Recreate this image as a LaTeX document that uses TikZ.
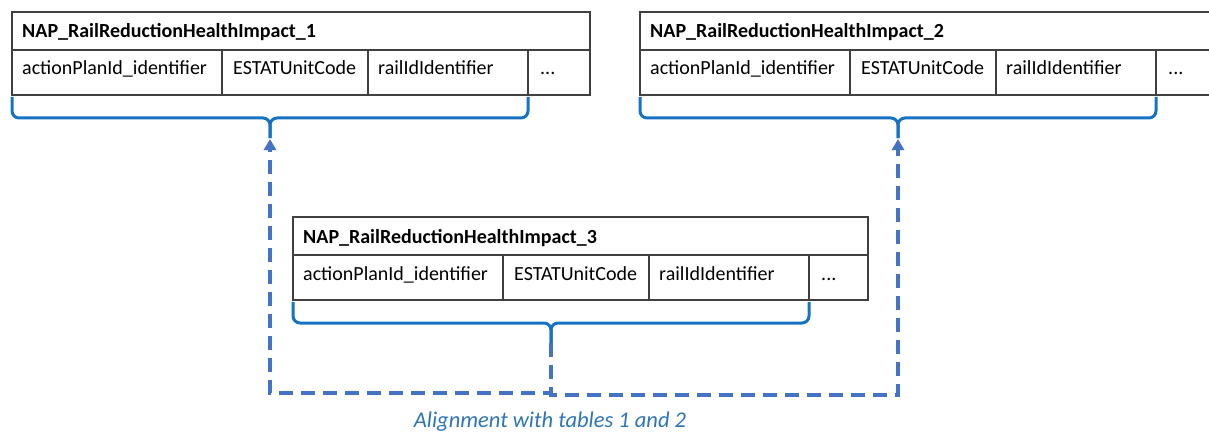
\documentclass[tikz,border=0pt]{standalone}
\usepackage{fontspec}
\setmainfont{Carlito}
\usetikzlibrary{arrows.meta}
\definecolor{bracecol}{HTML}{1772C4}
\definecolor{dashcol}{HTML}{4472C4}
\definecolor{capcol}{HTML}{2E75B6}
\definecolor{gridcol}{HTML}{404040}
\tikzset{
  cell/.style={draw=gridcol,line width=1.2pt},
  hdr/.style={anchor=base west,inner sep=0pt,font=\fontsize{20}{24}\selectfont\bfseries},
  fld/.style={anchor=base west,inner sep=0pt,font=\fontsize{20}{24}\selectfont},
  bracestyle/.style={draw=bracecol,line width=3pt,rounded corners=7pt},
  conn/.style={draw=dashcol,line width=3.2pt,dash pattern=on 14pt off 8pt},
  captext/.style={inner sep=0pt,text=capcol,font=\fontsize{22.5}{26}\selectfont\itshape},
}
\newcommand\naptable[4]{%
  \begin{scope}[shift={(#2,#3)}]
    \draw[cell] (0,0) rectangle (#4,83);
    \draw[cell] (0,38) -- (#4,38);
    \draw[cell] (210,38) -- (210,83);
    \draw[cell] (356,38) -- (356,83);
    \draw[cell] (516,38) -- (516,83);
    \node[hdr] (#1h) at (10,26) {NAP\_RailReductionHealthImpact\_#1};
    \node[fld] (#1a) at (10,63) {actionPlanId\_identifier};
    \node[fld] (#1b) at (221,63) {ESTATUnitCode};
    \node[fld] (#1c) at (366,63) {railIdIdentifier};
    \node[fld] (#1d) at (528,63) {...};
    \coordinate (#1L) at (0,85);
    \coordinate (#1R) at (516,85);
    \coordinate (#1M) at (258,106);
    \coordinate (#1tip) at (258,126);
    \draw[bracestyle] (#1L) |- (#1M) -- (#1tip);
    \draw[bracestyle] (#1R) |- (#1M) -- (#1tip);
  \end{scope}}
\begin{document}
\begin{tikzpicture}[x=1pt,y=-1pt]
  \useasboundingbox (0,0) rectangle (1209,433);
  \clip (0,0) rectangle (1209,433);
  \naptable{1}{12}{12}{578}
  \naptable{2}{640}{12}{600}
  \naptable{3}{293}{217}{575}
  \coordinate (a1) at (270,139);
  \coordinate (a2) at (898,139);
  \coordinate (low1) at (270,393);
  \coordinate (low2) at (898,395);
  \draw[conn,-{Triangle[width=12pt,length=11pt]}] (3tip) |- (low1) -- (a1);
  \draw[conn,-{Triangle[width=12pt,length=11pt]}] (3tip) |- (low2) -- (a2);
  \node[captext] (cap) at (550,422) {Alignment with tables 1 and 2};
\end{tikzpicture}
\end{document}
